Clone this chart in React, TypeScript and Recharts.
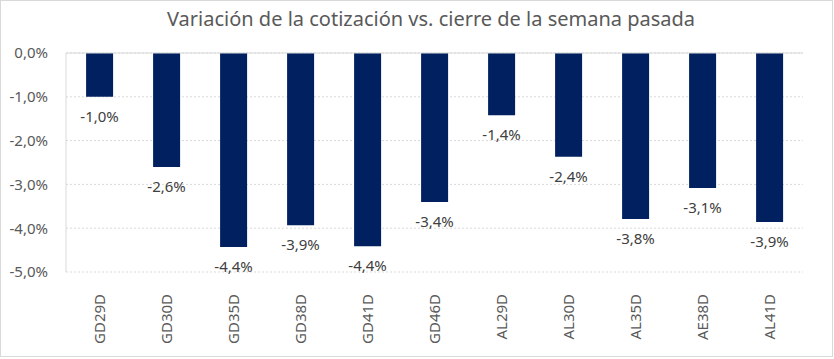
import React from 'react';
import { BarChart, Bar, XAxis, YAxis, CartesianGrid, ReferenceLine, LabelList } from 'recharts';

const bonos = ['GD29D', 'GD30D', 'GD35D', 'GD38D', 'GD41D', 'GD46D', 'AL29D', 'AL30D', 'AL35D', 'AE38D', 'AL41D'];
const variacion = [-1.0, -2.6, -4.43, -3.93, -4.41, -3.4, -1.42, -2.37, -3.79, -3.08, -3.86];
const yTicks = [0, -1, -2, -3, -4, -5];

const data = bonos.map((name, i) => ({ name, value: variacion[i] }));

const fmt = (v: number) => (Math.abs(v) < 0.001 ? '0,0%' : v.toFixed(1).replace('.', ',') + '%');

const FONT = 'Noto Sans, sans-serif';

const CategoryTick = (props: any) => {
  const { x, y, payload } = props;
  return (
    <g transform={`translate(${x},${y})`}>
      <text
        transform="rotate(-90)"
        x={-14}
        y={0}
        dy="0.35em"
        textAnchor="end"
        fill="#595959"
        fontSize={15}
        fontFamily={FONT}
      >
        {payload.value}
      </text>
    </g>
  );
};

const ValueLabel = (props: any) => {
  const { x, y, width, height, value } = props;
  const bottom = Math.max(y, y + height);
  return (
    <text
      x={x + width / 2}
      y={bottom + 21}
      textAnchor="middle"
      dominantBaseline="middle"
      fill="#404040"
      fontSize={15}
      fontFamily={FONT}
    >
      {fmt(value)}
    </text>
  );
};

export default function App() {
  return (
    <div
      style={{
        position: 'absolute',
        left: 0,
        top: 0,
        width: 834,
        height: 359,
        background: '#fff',
        fontFamily: FONT,
      }}
    >
      <div
        style={{
          position: 'absolute',
          left: 0,
          top: 0,
          width: 831,
          height: 355,
          border: '1px solid #d9d9d9',
        }}
      />
      <div
        style={{
          position: 'absolute',
          top: 5,
          left: 0,
          width: 862,
          textAlign: 'center',
          fontSize: 20,
          color: '#595959',
        }}
      >
        Variación de la cotización vs. cierre de la semana pasada
      </div>
      <BarChart
        width={834}
        height={359}
        data={data}
        margin={{ top: 53, right: 31, left: 0, bottom: 0 }}
        barCategoryGap="30%"
        style={{ position: 'absolute', left: 0, top: 0 }}
      >
        <CartesianGrid vertical={false} stroke="#d9d9d9" strokeDasharray="2 2" />
        <XAxis
          dataKey="name"
          height={87}
          axisLine={false}
          tickLine={false}
          interval={0}
          tick={<CategoryTick />}
        />
        <YAxis
          width={66}
          domain={[-5, 0]}
          ticks={yTicks}
          tickFormatter={fmt}
          axisLine={{ stroke: '#d9d9d9' }}
          tickLine={false}
          tickMargin={12}
          tick={{ fill: '#595959', fontSize: 15, fontFamily: FONT }}
        />
        <ReferenceLine y={0} stroke="#d9d9d9" />
        <Bar dataKey="value" fill="#002060" isAnimationActive={false}>
          <LabelList dataKey="value" content={<ValueLabel />} />
        </Bar>
      </BarChart>
    </div>
  );
}
